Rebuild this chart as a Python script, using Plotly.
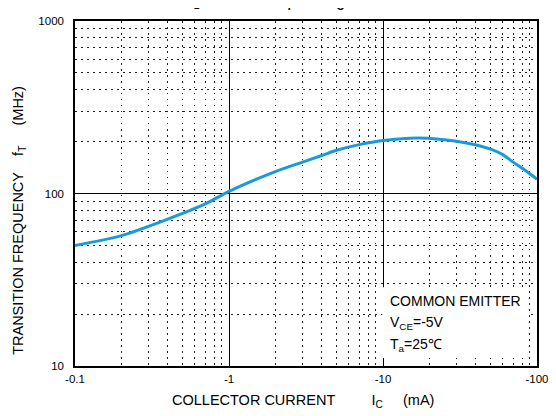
import plotly.graph_objects as go

# Data
collector_current_ma = [0.1, 0.2, 0.4, 0.7, 1, 2, 3, 4, 5, 7, 10, 17, 30, 50, 60, 70, 85, 100]
transition_freq_mhz = [50, 57, 71, 87, 103, 134, 152, 166, 178, 192, 203, 210, 201, 181, 168, 152, 135, 121]

x_major_vals = [0.1, 1, 10, 100]
x_major_text = ["-0.1", "-1", "-10", "-100"]
x_minor_vals = [m * d for d in [0.1, 1, 10] for m in range(2, 10)]
y_major_vals = [10, 100, 1000]
y_major_text = ["10", "100", "1000"]
y_minor_vals = [m * d for d in [10, 100] for m in range(2, 10)]

FONT = "Liberation Sans, Arial, sans-serif"

fig = go.Figure()
fig.add_trace(go.Scatter(
    x=collector_current_ma, y=transition_freq_mhz, mode="lines",
    line=dict(color="#1a9bd7", width=3, shape="spline", smoothing=0.8),
    hoverinfo="skip", showlegend=False,
))

axis_common = dict(
    type="log", showline=True, linecolor="black", linewidth=1.5, mirror=True,
    showgrid=True, gridcolor="black", gridwidth=1, zeroline=False,
    ticks="", tickfont=dict(family=FONT, size=11.5, color="black"),
)

fig.update_xaxes(
    **axis_common,
    range=[-1, 2], tickmode="array", tickvals=x_major_vals, ticktext=x_major_text,
    minor=dict(tickmode="array", tickvals=x_minor_vals, showgrid=True,
               gridcolor="#222", gridwidth=1, griddash="1.5px,4.5px", ticks=""),
    ticklabelstandoff=1,
)
fig.update_yaxes(
    **axis_common,
    range=[1, 3], tickmode="array", tickvals=y_major_vals, ticktext=y_major_text,
    minor=dict(tickmode="array", tickvals=y_minor_vals, showgrid=True,
               gridcolor="#222", gridwidth=1, griddash="1.5px,4.5px", ticks=""),
    ticklabelstandoff=7,
)

# axis titles as annotations (placed like the reference)
fig.add_annotation(
    text="COLLECTOR CURRENT" + "&nbsp;" * 9 + "I<sub>C</sub>" + "&nbsp;" * 5 + "(mA)",
    xref="paper", yref="paper", x=0.4925, y=-0.1, xanchor="center", yanchor="middle",
    showarrow=False, font=dict(family=FONT, size=14.5, color="black"))
fig.add_annotation(
    text="TRANSITION FREQUENCY" + "&nbsp;" * 4 + "f<sub>T</sub>" + "&nbsp;" * 5 + "(MHz)",
    xref="paper", yref="paper", x=-0.1226, y=0.4217, xanchor="center", yanchor="middle",
    textangle=-90, showarrow=False, font=dict(family=FONT, size=14.5, color="black"))

# white box behind the condition notes
fig.add_shape(type="rect", xref="paper", yref="paper",
              x0=0.665, x1=0.981, y0=0.023, y1=0.228,
              fillcolor="white", line=dict(width=0), layer="above")

notes = [
    ("COMMON EMITTER", 0.188),
    ("V<sub>CE</sub>=-5V", 0.125),
    ("T<sub>a</sub>=25℃", 0.06),
]
for txt, yy in notes:
    fig.add_annotation(text=txt, xref="paper", yref="paper", x=0.677, y=yy,
                       xanchor="left", yanchor="middle", showarrow=False,
                       font=dict(family=FONT, size=14, color="black"))

# title, mostly cut off at the top of the page
fig.add_annotation(text="<b>Fig.</b>", xref="paper", yref="paper", x=0.2215, y=1.0,
                   yshift=10, xanchor="left", yanchor="bottom", showarrow=False,
                   font=dict(family=FONT, size=15, color="black"))
fig.add_annotation(text="<b>f<sub>T</sub>&nbsp;&nbsp;&nbsp;—&nbsp;&nbsp;&nbsp;I<sub>C</sub></b>",
                   xref="paper", yref="paper", x=0.441, y=1.0,
                   yshift=7, xanchor="left", yanchor="bottom", showarrow=False,
                   font=dict(family=FONT, size=15, color="black"))

fig.update_layout(
    width=548, height=408,
    margin=dict(l=67, r=16, t=7, b=50),
    paper_bgcolor="white", plot_bgcolor="white",
    font=dict(family=FONT, color="black"),
)

fig.write_html("out.html")
